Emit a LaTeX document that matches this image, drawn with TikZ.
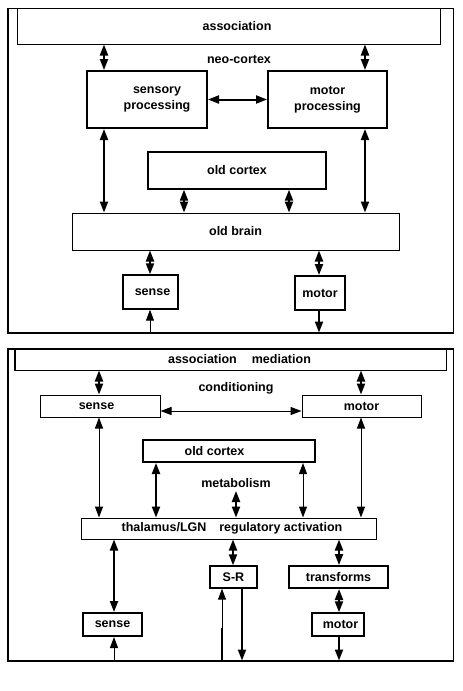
\documentclass[tikz,border=0pt]{standalone}
\usepackage{fontspec}
\setmainfont{Liberation Sans}
\usetikzlibrary{arrows.meta}
\begin{document}
\begin{tikzpicture}[x=1pt,y=-1pt,
  every node/.style={font=\fontsize{12.5}{16.5}\selectfont\bfseries, inner sep=0pt, align=center},
  box/.style={draw, line width=1pt},
  tbox/.style={draw, line width=2pt},
  mbox/.style={draw, line width=1.4pt},
  frm/.style={draw, line width=1pt},
  tip/.tip={Triangle[length=11pt 0 0,width=8pt 0 0]},
  ar/.style={line width=1pt},
  tar/.style={line width=2pt},
  dbl/.style={tip-tip},
  fwd/.style={-tip}
]
\useasboundingbox (0,0) rectangle (463,691);
% ---------- top panel ----------
\node[frm, minimum width=445pt, minimum height=324pt] (frA) at (230.5,170) {};
\draw[line width=2pt] (frA.north west) -- (frA.south west) -- (frA.south east);
\node[box, minimum width=423pt, minimum height=36pt] (assocA) at (228.5,26) {\hspace{17pt}association};
\node (neo) at (239,59) {neo-cortex};
\node[tbox, minimum width=120pt, minimum height=57pt] (sp) at (147,99.5) {\hspace{20pt}sensory\\\hspace{20pt}processing};
\node[tbox, minimum width=119pt, minimum height=57pt] (mp) at (327.5,99.5) {motor\\processing};
\node[mbox, minimum width=178pt, minimum height=37pt] (ocA) at (237,170.5) {old cortex};
\node[box, minimum width=327pt, minimum height=37pt] (ob) at (235.5,231.5) {old brain};
\node[mbox, minimum width=55pt, minimum height=34pt] (senseA) at (150.5,292) {\hspace{4pt}sense};
\node[tbox, minimum width=50pt, minimum height=34pt] (motorA) at (320,293) {motor};
\coordinate (xa) at (104,0);
\coordinate (xb) at (365,0);
\coordinate (xc) at (184,0);
\coordinate (xd) at (289,0);
\coordinate (xe) at (150,0);
\coordinate (xf) at (319,0);
\draw[tar,dbl] (assocA.south -| xa) -- (sp.north -| xa);
\draw[tar,dbl] (assocA.south -| xb) -- (mp.north -| xb);
\draw[tar,dbl] (sp.east) -- (mp.west);
\draw[tar,dbl] (sp.south -| xa) -- (ob.north -| xa);
\draw[tar,dbl] (mp.south -| xb) -- (ob.north -| xb);
\draw[tar,dbl] (ocA.south -| xc) -- (ob.north -| xc);
\draw[tar,dbl] (ocA.south -| xd) -- (ob.north -| xd);
\draw[tar,dbl] (ob.south -| xe) -- (senseA.north -| xe);
\draw[tar,dbl] (ob.south -| xf) -- (motorA.north -| xf);
\draw[ar,fwd] (frA.south -| xe) -- (senseA.south -| xe);
\draw[tar,fwd] (motorA.south -| xf) -- (frA.south -| xf);
% ---------- bottom panel ----------
\node[frm, minimum width=445pt, minimum height=311pt] (frB) at (230.5,504.5) {};
\draw[line width=2pt] (frB.south east) -- (frB.south west) -- (frB.north west) -- (frB.north east);
\node[box, minimum width=431pt, minimum height=21pt] (assocB) at (230.5,359.5) {\hspace{18pt}association\hspace{15pt}mediation};
\draw[line width=2pt] (assocB.north west) -- (assocB.south west);
\node (cond) at (236,388) {conditioning};
\node[box, minimum width=120pt, minimum height=22pt] (senseB) at (100,406) {sense\hspace{7pt}};
\node[box, minimum width=119pt, minimum height=22pt] (motorB) at (361.5,406) {motor};
\node[tbox, minimum width=172pt, minimum height=22pt] (ocB) at (229,451) {old cortex\hspace{29pt}};
\node (metab) at (236,483) {metabolism};
\node[box, minimum width=295pt, minimum height=21pt] (thal) at (228.5,528.5) {\hspace{7pt}thalamus/LGN\hspace{13pt}regulatory activation};
\node[tbox, minimum width=59pt, minimum height=23pt] (senseC) at (112.5,624.5) {sense};
\node[mbox, minimum width=47pt, minimum height=22pt] (sr) at (233.5,577) {S-R};
\node[tbox, minimum width=99pt, minimum height=22pt] (tr) at (338.5,577) {transforms};
\node[mbox, minimum width=52pt, minimum height=23pt] (motorC) at (338,624.5) {\hspace{5pt}motor};
\coordinate (xg) at (99,0);
\coordinate (xh) at (361,0);
\coordinate (xi) at (156,0);
\coordinate (xj) at (303,0);
\coordinate (xk) at (114,0);
\coordinate (xl) at (233,0);
\coordinate (xm) at (339,0);
\coordinate (xn) at (222,0);
\coordinate (xo) at (242,0);
\coordinate (yc) at (0,411);
\coordinate (mtop) at (236,491);
\coordinate (kink) at (222,628);
\draw[tar,dbl] (assocB.south -| xg) -- (senseB.north -| xg);
\draw[tar,dbl] (assocB.south -| xh) -- (motorB.north -| xh);
\draw[ar,dbl] (senseB.east |- yc) -- (motorB.west |- yc);
\draw[ar,dbl] (senseB.south -| xg) -- (thal.north -| xg);
\draw[ar,dbl] (motorB.south -| xh) -- (thal.north -| xh);
\draw[tar,dbl] (ocB.south -| xi) -- (thal.north -| xi);
\draw[ar,dbl] (ocB.south -| xj) -- (thal.north -| xj);
\draw[tar,dbl] (mtop) -- (thal.north -| mtop);
\draw[tar,dbl] (thal.south -| xk) -- (senseC.north -| xk);
\draw[ar,fwd] (frB.south -| xk) -- (senseC.south -| xk);
\draw[tar,dbl] (thal.south -| xl) -- (sr.north -| xl);
\draw[tar,dbl] (thal.south -| xm) -- (tr.north -| xm);
\draw[tar,dbl] (tr.south -| xm) -- (motorC.north -| xm);
\draw[tar,fwd] (motorC.south -| xm) -- (frB.south -| xm);
\draw[ar,fwd] (frB.south -| xn) -- (sr.south -| xn);
\draw[tar] (frB.south -| xn) -- (kink);
\draw[tar,fwd] (sr.south -| xo) -- (frB.south -| xo);
\end{tikzpicture}
\end{document}
